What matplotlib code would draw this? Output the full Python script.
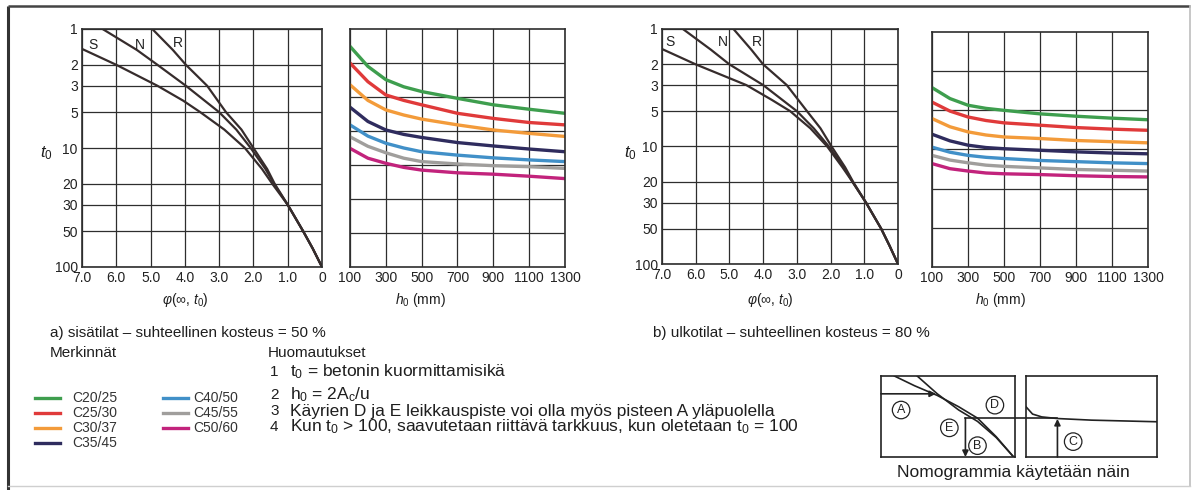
import matplotlib
matplotlib.use('Agg')
import matplotlib.pyplot as plt

W, H = 1194, 490
plt.rcParams['font.family'] = ['Liberation Sans', 'DejaVu Sans']
plt.rcParams['mathtext.fontset'] = 'custom'
plt.rcParams['mathtext.rm'] = 'Liberation Sans'
plt.rcParams['mathtext.it'] = 'Liberation Sans:italic'
plt.rcParams['mathtext.cal'] = 'Liberation Sans'

# ---------------- data ----------------
t0_ticks = [1, 2, 3, 5, 10, 20, 30, 50, 100]
phi_ticks = [7, 6, 5, 4, 3, 2, 1, 0]
phi_labels = ['7.0', '6.0', '5.0', '4.0', '3.0', '2.0', '1.0', '0']
h0_ticks = [100, 300, 500, 700, 900, 1100, 1300]

# a) indoor, RH 50 %  -- cement class curves (t0 vs phi)
a_S_t0 = [1.47, 2, 3, 4, 5, 7, 10, 15, 20, 30, 50, 70, 100]
a_S_phi = [7.0, 6.0, 4.8, 4.05, 3.55, 2.85, 2.25, 1.75, 1.45, 1.0, 0.55, 0.27, 0.0]
a_N_t0 = [1, 1.5, 2, 3, 5, 7, 10, 15, 20, 30, 50, 70, 100]
a_N_phi = [6.4, 5.4, 4.8, 3.97, 3.0, 2.5, 2.08, 1.65, 1.4, 1.0, 0.55, 0.27, 0.0]
a_R_t0 = [1, 1.5, 2, 3, 5, 7, 10, 15, 20, 30, 50, 70, 100]
a_R_phi = [4.95, 4.35, 3.97, 3.35, 2.8, 2.35, 2.0, 1.6, 1.38, 1.0, 0.55, 0.27, 0.0]

# b) outdoor, RH 80 %
b_S_t0 = [1.48, 2, 3, 4, 5, 7, 10, 15, 20, 30, 50, 70, 100]
b_S_phi = [7.0, 6.0, 4.5, 3.75, 3.2, 2.6, 2.1, 1.65, 1.35, 0.95, 0.5, 0.25, 0.0]
b_N_t0 = [1, 1.5, 2, 3, 5, 7, 10, 15, 20, 30, 50, 70, 100]
b_N_phi = [6.38, 5.55, 5.0, 4.0, 3.0, 2.5, 2.05, 1.6, 1.35, 0.95, 0.5, 0.25, 0.0]
b_R_t0 = [1, 1.5, 2, 3, 5, 7, 10, 15, 20, 30, 50, 70, 100]
b_R_phi = [4.88, 4.35, 4.0, 3.3, 2.7, 2.3, 1.97, 1.57, 1.33, 0.95, 0.5, 0.25, 0.0]

# concrete class curves (position in right panel, grid rows from top)
h0_pts = [100, 200, 300, 400, 500, 700, 900, 1100, 1300]
classes = ['C20/25', 'C25/30', 'C30/37', 'C35/45', 'C40/50', 'C45/55', 'C50/60']
class_colors = ['#3e9e4e', '#e03a3a', '#f39b3a', '#2f2c5e', '#4190c8', '#a09e9c', '#c2237c']

a_C20 = [0.51, 1.10, 1.49, 1.70, 1.84, 2.04, 2.23, 2.36, 2.48]
a_C25 = [1.00, 1.55, 1.94, 2.10, 2.23, 2.48, 2.63, 2.75, 2.82]
a_C30 = [1.64, 2.10, 2.38, 2.53, 2.65, 2.82, 2.97, 3.07, 3.16]
a_C35 = [2.30, 2.72, 2.97, 3.10, 3.19, 3.34, 3.44, 3.53, 3.61]
a_C40 = [2.82, 3.15, 3.36, 3.50, 3.61, 3.71, 3.79, 3.85, 3.90]
a_C45 = [3.17, 3.45, 3.64, 3.80, 3.90, 3.97, 4.02, 4.05, 4.10]
a_C50 = [3.51, 3.80, 3.95, 4.07, 4.15, 4.23, 4.27, 4.33, 4.40]

b_C20 = [1.42, 1.70, 1.87, 1.95, 2.00, 2.09, 2.15, 2.20, 2.24]
b_C25 = [1.79, 2.02, 2.17, 2.26, 2.32, 2.38, 2.44, 2.48, 2.51]
b_C30 = [2.21, 2.42, 2.55, 2.63, 2.68, 2.72, 2.77, 2.80, 2.83]
b_C35 = [2.61, 2.78, 2.89, 2.95, 2.98, 3.02, 3.06, 3.09, 3.11]
b_C40 = [2.94, 3.07, 3.15, 3.20, 3.23, 3.28, 3.31, 3.34, 3.36]
b_C45 = [3.15, 3.27, 3.34, 3.40, 3.43, 3.47, 3.51, 3.53, 3.55]
b_C50 = [3.36, 3.49, 3.55, 3.60, 3.62, 3.64, 3.67, 3.69, 3.70]

notes = [
    r'$\mathregular{t_0}$ = betonin kuormittamisikä',
    r'$\mathregular{h_0}$ = 2$\mathregular{A_c}$/u',
    'Käyrien D ja E leikkauspiste voi olla myös pisteen A yläpuolella',
    r'Kun $\mathregular{t_0}$ > 100, saavutetaan riittävä tarkkuus, kun oletetaan $\mathregular{t_0}$ = 100',
]

# ---------------- figure ----------------
fig = plt.figure(figsize=(W / 100, H / 100), dpi=100)
GRID = '#2e2e2e'
CURVE = '#362c2c'
TICKFS = 10


def add_ax(x0, y0, x1, y1, **kw):
    return fig.add_axes([x0 / W, 1 - y1 / H, (x1 - x0) / W, (y1 - y0) / H], **kw)


bg = add_ax(0, 0, W, H)
bg.set_xlim(0, W)
bg.set_ylim(H, 0)
bg.axis('off')
# outer frame
bg.plot([8, 8], [6, H], color='#333333', lw=2.2, solid_capstyle='butt')
bg.plot([8, 1190], [6, 6], color='#444444', lw=1.8, solid_capstyle='butt')
bg.plot([1190, 1190], [6, 486], color='#bdbdbd', lw=1.2)
bg.plot([8, 1190], [486, 486], color='#cfcfcf', lw=1.0)


def style(ax):
    for s in ax.spines.values():
        s.set_color(GRID)
        s.set_linewidth(1.2)
    ax.tick_params(length=0, labelsize=TICKFS, colors='#222222', pad=3)
    ax.grid(True, color=GRID, lw=0.9)
    ax.set_axisbelow(True)


def nomo(ax, curves, labels):
    ax.set_yscale('log')
    ax.set_xlim(7, 0)
    ax.set_ylim(100, 1)
    ax.set_yticks(t0_ticks)
    ax.set_yticklabels([str(t) for t in t0_ticks])
    ax.yaxis.set_minor_locator(matplotlib.ticker.NullLocator())
    ax.set_xticks(phi_ticks)
    ax.set_xticklabels(phi_labels)
    style(ax)
    for t0, phi in curves:
        ax.plot(phi, t0, color=CURVE, lw=1.6, clip_on=True)
    for (px, py, s) in labels:
        ax.text(px, py, s, fontsize=10, color='#222222', ha='center', va='center')


def classes_panel(ax, series, nrows):
    ax.set_xlim(100, 1300)
    ax.set_ylim(nrows, 0)
    ax.set_xticks(h0_ticks)
    ax.set_yticks(range(1, nrows))
    ax.set_yticklabels([])
    style(ax)
    for vals, col in zip(series, class_colors):
        ax.plot(h0_pts, vals, color=col, lw=2.4, solid_capstyle='round')


ax_a1 = add_ax(82, 29, 322, 267)
nomo(ax_a1, [(a_S_t0, a_S_phi), (a_N_t0, a_N_phi), (a_R_t0, a_R_phi)],
     [(6.68, 1.36, 'S'), (5.3, 1.36, 'N'), (4.2, 1.3, 'R')])
ax_a2 = add_ax(350, 29, 565, 267)
classes_panel(ax_a2, [a_C20, a_C25, a_C30, a_C35, a_C40, a_C45, a_C50], 7)

ax_b1 = add_ax(662, 29, 898, 264)
nomo(ax_b1, [(b_S_t0, b_S_phi), (b_N_t0, b_N_phi), (b_R_t0, b_R_phi)],
     [(6.76, 1.3, 'S'), (5.2, 1.3, 'N'), (4.18, 1.3, 'R')])
ax_b2 = add_ax(932, 32, 1148, 267)
classes_panel(ax_b2, [b_C20, b_C25, b_C30, b_C35, b_C40, b_C45, b_C50], 6)

# axis labels
TXT = '#1e1e1e'
bg.text(46, 153, r'$t_0$', fontsize=12, ha='center', va='center', color=TXT)
bg.text(630, 153, r'$t_0$', fontsize=12, ha='center', va='center', color=TXT)
bg.text(185, 300, r'$\varphi$($\infty$, $t_0$)', fontsize=10, ha='center', va='center', color=TXT)
bg.text(770, 300, r'$\varphi$($\infty$, $t_0$)', fontsize=10, ha='center', va='center', color=TXT)
bg.text(420, 300, r'$h_0$ (mm)', fontsize=10, ha='center', va='center', color=TXT)
bg.text(1000, 300, r'$h_0$ (mm)', fontsize=10, ha='center', va='center', color=TXT)

HFS = 11
NFS = 12.5
bg.text(50, 333, 'a) sisätilat – suhteellinen kosteus = 50 %', fontsize=HFS, va='center', color=TXT)
bg.text(653, 333, 'b) ulkotilat – suhteellinen kosteus = 80 %', fontsize=HFS, va='center', color=TXT)
bg.text(50, 353, 'Merkinnät', fontsize=HFS, va='center', color=TXT)
bg.text(268, 353, 'Huomautukset', fontsize=HFS, va='center', color=TXT)
note_y = [372, 395, 411, 427]
for i, (txt, y) in enumerate(zip(notes, note_y)):
    bg.text(270, y, str(i + 1), fontsize=HFS, va='center', color=TXT)
    bg.text(290, y, txt, fontsize=NFS, va='center', color=TXT)

# legend
leg_pos = [(35, 72, 398), (35, 72, 413), (35, 72, 428), (35, 72, 443),
           (163, 193, 398), (163, 193, 413), (163, 193, 428)]
for name, col, (lx, tx, y) in zip(classes, class_colors, leg_pos):
    bg.plot([lx, lx + 25], [y, y], color=col, lw=2.4)
    bg.text(tx, y, name, fontsize=10, va='center', color='#333333',
            family=['Liberation Sans Narrow', 'Liberation Sans'])

# ---------------- inset: how to use the nomogram ----------------
in1 = add_ax(881, 376, 1015, 457)
in2 = add_ax(1026, 376, 1157, 457)
for a in (in1, in2):
    a.set_xlim(0, 1)
    a.set_ylim(0, 1)
    a.set_xticks([])
    a.set_yticks([])
    for s in a.spines.values():
        s.set_color('#222222')
        s.set_linewidth(1.2)

ILW = 1.2
IC = '#222222'
in1.plot([0.10, 0.25, 0.42, 0.58, 0.72, 0.86, 0.99], [1.0, 0.88, 0.76, 0.62, 0.48, 0.25, 0.0], color=IC, lw=ILW)
in1.plot([0.27, 0.42, 0.58, 0.72, 0.86, 0.99], [1.0, 0.78, 0.58, 0.44, 0.24, 0.0], color=IC, lw=ILW)
in1.annotate('', xy=(0.41, 0.78), xytext=(0.0, 0.78),
             arrowprops=dict(arrowstyle='-|>', color=IC, lw=ILW, mutation_scale=9, shrinkA=0, shrinkB=0))
in1.plot([0.63, 1.09], [0.48, 0.48], color=IC, lw=ILW, clip_on=False)
in1.annotate('', xy=(0.63, 0.0), xytext=(0.63, 0.48),
             arrowprops=dict(arrowstyle='-|>', color=IC, lw=ILW, mutation_scale=9, shrinkA=0, shrinkB=0))
in2.plot([0.0, 0.05, 0.12, 0.24, 0.5, 0.75, 1.0], [0.62, 0.53, 0.495, 0.475, 0.455, 0.445, 0.435], color=IC, lw=ILW)
in2.plot([0.0, 0.24], [0.48, 0.48], color=IC, lw=ILW)
in2.annotate('', xy=(0.24, 0.47), xytext=(0.24, 0.0),
             arrowprops=dict(arrowstyle='-|>', color=IC, lw=ILW, mutation_scale=9, shrinkA=0, shrinkB=0))

circ = dict(boxstyle='circle,pad=0.22', fc='white', ec=IC, lw=0.9)
for a, (cx, cy, s) in [(in1, (0.15, 0.58, 'A')), (in1, (0.51, 0.36, 'E')), (in1, (0.72, 0.14, 'B')),
                       (in1, (0.85, 0.64, 'D')), (in2, (0.36, 0.19, 'C'))]:
    a.text(cx, cy, s, fontsize=9, ha='center', va='center', color=IC, bbox=circ)

bg.text(1013, 472, 'Nomogrammia käytetään näin', fontsize=NFS, ha='center', va='center', color=TXT)

fig.savefig('out.png', dpi=100)
